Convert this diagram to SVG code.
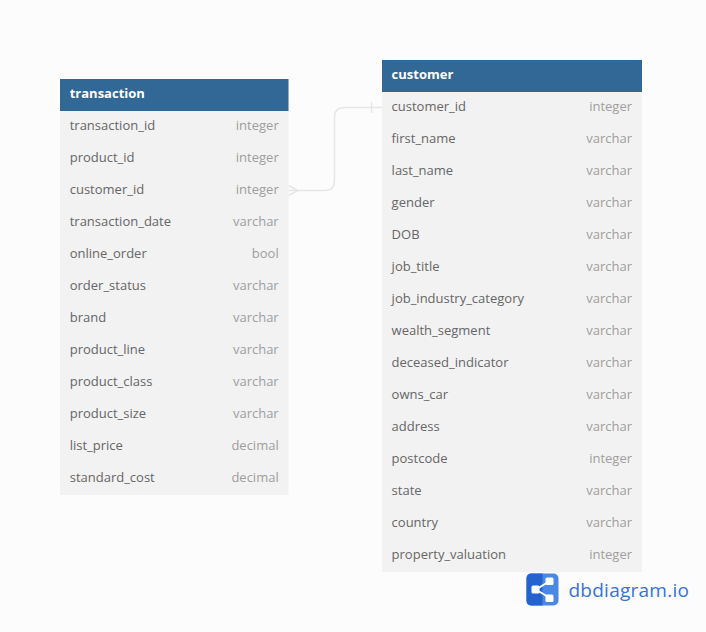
<svg xmlns="http://www.w3.org/2000/svg" width="706" height="632" viewBox="0 0 706 632">
<style>
.bg{fill:#f2f2f2}.hd{fill:#316896}
text{font-family:"Open Sans","Noto Sans",sans-serif;font-size:13px}
.t{font-weight:700;fill:#fff}
.n{fill:#666}
.y{fill:#9e9e9e;text-anchor:end}
.c{fill:none;stroke:#e6e6e6;stroke-width:1.5}
</style>
<rect width="706" height="632" fill="#fcfcfc"/>
<g id="connectors">
<path class="c" d="M288.500 190.500H325Q334.500 190.500 334.500 181V117Q334.500 107.500 344 107.500H382"/>
<path class="c" d="M371.500 102V113M288.500 185.500L298 190.500L288.500 195.500"/>
</g>
<g id="transaction" transform="translate(-.3 0)">
<rect class="bg" x="60.300" y="79" width="228.500" height="416"/>
<rect class="hd" x="60.300" y="79" width="228.500" height="32"/>
<text class="t" x="70" y="98">transaction</text>
<text class="n" x="70" y="130">transaction_id</text><text class="y" x="279" y="130">integer</text>
<text class="n" x="70" y="162">product_id</text><text class="y" x="279" y="162">integer</text>
<text class="n" x="70" y="194">customer_id</text><text class="y" x="279" y="194">integer</text>
<text class="n" x="70" y="226">transaction_date</text><text class="y" x="279" y="226">varchar</text>
<text class="n" x="70" y="258">online_order</text><text class="y" x="279" y="258">bool</text>
<text class="n" x="70" y="290">order_status</text><text class="y" x="279" y="290">varchar</text>
<text class="n" x="70" y="322">brand</text><text class="y" x="279" y="322">varchar</text>
<text class="n" x="70" y="354">product_line</text><text class="y" x="279" y="354">varchar</text>
<text class="n" x="70" y="386">product_class</text><text class="y" x="279" y="386">varchar</text>
<text class="n" x="70" y="418">product_size</text><text class="y" x="279" y="418">varchar</text>
<text class="n" x="70" y="450">list_price</text><text class="y" x="279" y="450">decimal</text>
<text class="n" x="70" y="482">standard_cost</text><text class="y" x="279" y="482">decimal</text>
</g>
<g id="customer">
<rect class="bg" x="382" y="60" width="260" height="512"/>
<rect class="hd" x="382" y="60" width="260" height="32"/>
<text class="t" x="391.600" y="79">customer</text>
<text class="n" x="391.600" y="111">customer_id</text><text class="y" x="632" y="111">integer</text>
<text class="n" x="391.600" y="143">first_name</text><text class="y" x="632" y="143">varchar</text>
<text class="n" x="391.600" y="175">last_name</text><text class="y" x="632" y="175">varchar</text>
<text class="n" x="391.600" y="207">gender</text><text class="y" x="632" y="207">varchar</text>
<text class="n" x="391.600" y="239">DOB</text><text class="y" x="632" y="239">varchar</text>
<text class="n" x="391.600" y="271">job_title</text><text class="y" x="632" y="271">varchar</text>
<text class="n" x="391.600" y="303">job_industry_category</text><text class="y" x="632" y="303">varchar</text>
<text class="n" x="391.600" y="335">wealth_segment</text><text class="y" x="632" y="335">varchar</text>
<text class="n" x="391.600" y="367">deceased_indicator</text><text class="y" x="632" y="367">varchar</text>
<text class="n" x="391.600" y="399">owns_car</text><text class="y" x="632" y="399">varchar</text>
<text class="n" x="391.600" y="431">address</text><text class="y" x="632" y="431">varchar</text>
<text class="n" x="391.600" y="463">postcode</text><text class="y" x="632" y="463">integer</text>
<text class="n" x="391.600" y="495">state</text><text class="y" x="632" y="495">varchar</text>
<text class="n" x="391.600" y="527">country</text><text class="y" x="632" y="527">varchar</text>
<text class="n" x="391.600" y="559">property_valuation</text><text class="y" x="632" y="559">integer</text>
</g>
<g id="logo">
<rect x="526.500" y="573.500" width="32" height="32" rx="5" fill="#4a88e6"/>
<path d="M531.500 573.500H542.500V605.500H531.500Q526.500 605.500 526.500 600.500V578.500Q526.500 573.500 531.500 573.500Z" fill="#2463cf"/>
<path d="M536 589.500L549 581.500M536 589.500L549 597.500" stroke="#fff" stroke-width="2" fill="none"/>
<rect x="531.500" y="585.500" width="8" height="8" rx="1.500" fill="#fff"/>
<rect x="545.500" y="577.500" width="8" height="7.500" rx="1.500" fill="#fff"/>
<rect x="545.500" y="594.500" width="8" height="7.500" rx="1.500" fill="#fff"/>
<text x="568.500" y="597" style="font-family:'Open Sans',sans-serif;font-size:19px;fill:#3573d9;letter-spacing:.25px">dbdiagram.io</text>
</g>
</svg>
